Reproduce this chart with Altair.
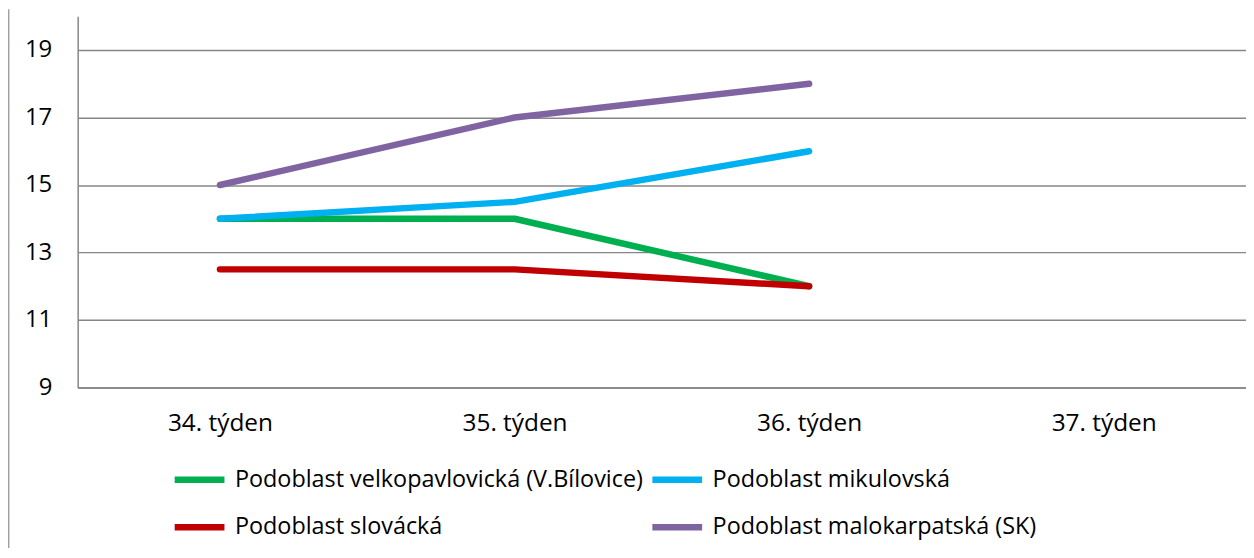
import altair as alt
import pandas as pd

weeks = ["34. týden", "35. týden", "36. týden", "37. týden"]
series = [
    "Podoblast velkopavlovická (V.Bílovice)",
    "Podoblast mikulovská",
    "Podoblast slovácká",
    "Podoblast malokarpatská (SK)",
]
colors = ["#00B050", "#00B0F0", "#C00000", "#8064A2"]
velko = [14, 14, 12]
mikul = [14, 14.5, 16]
slov = [12.5, 12.5, 12]
malo = [15, 17, 18]
y_ticks = [9, 11, 13, 15, 17, 19]

rows = []
for i, (name, vals) in enumerate(zip(series, [velko, mikul, slov, malo])):
    for w, v in zip(weeks, vals):
        rows.append({"week": w, "value": v, "series": name, "ord": i})
df = pd.DataFrame(rows)

# legend fills column-first: put entries so rows read velko|mikul, slov|malo
legend_order = [series[0], series[2], series[1], series[3]]
legend_colors = [colors[0], colors[2], colors[1], colors[3]]

FONT = "Open Sans"
GRID = "#868686"

lines = alt.Chart(df).mark_line(strokeWidth=6.5, strokeCap="round", strokeJoin="round").encode(
    x=alt.X("week:N", sort=weeks, scale=alt.Scale(domain=weeks, type="point", padding=0.483),
            axis=alt.Axis(title=None, labelAngle=0, ticks=False, labelFontSize=24.5, labelFont=FONT,
                          labelColor="black", labelPadding=24, domainColor=GRID, domainWidth=1.5,
                          grid=False)),
    y=alt.Y("value:Q", scale=alt.Scale(domain=[9, 20], nice=False, zero=False),
            axis=alt.Axis(title=None, values=y_ticks, ticks=False, labelFontSize=24, labelFont=FONT,
                          labelColor="black", labelPadding=26, domainColor=GRID, domainWidth=1.5,
                          gridColor=GRID, gridWidth=1.5)),
    color=alt.Color("series:N", scale=alt.Scale(domain=legend_order, range=legend_colors),
                    legend=alt.Legend(title=None, orient="none", legendX=94, legendY=437, columns=2,
                                      symbolType="stroke", symbolSize=2500, symbolStrokeWidth=6.5,
                                      labelFontSize=23.5, labelFont=FONT, labelColor="black",
                                      labelOffset=7, columnPadding=-5, rowPadding=6, padding=0,
                                      labelLimit=600)),
    detail="ord:O",
    order="ord:O",
)

frame = alt.Chart(pd.DataFrame({"a": [0]})).mark_rule(color="#A0A0A0", strokeWidth=1.5, clip=False).encode(
    x=alt.value(-69.3), y=alt.value(-7), y2=alt.value(540)
)

chart = alt.layer(frame, lines).properties(
    width=1174, height=373,
    autosize=alt.AutoSizeParams(type="none"),
    padding={"left": 70, "top": 7, "right": 0, "bottom": 160},
).configure_view(stroke=None)

chart.save("out.html", embed_options={"renderer": "svg", "actions": False})
